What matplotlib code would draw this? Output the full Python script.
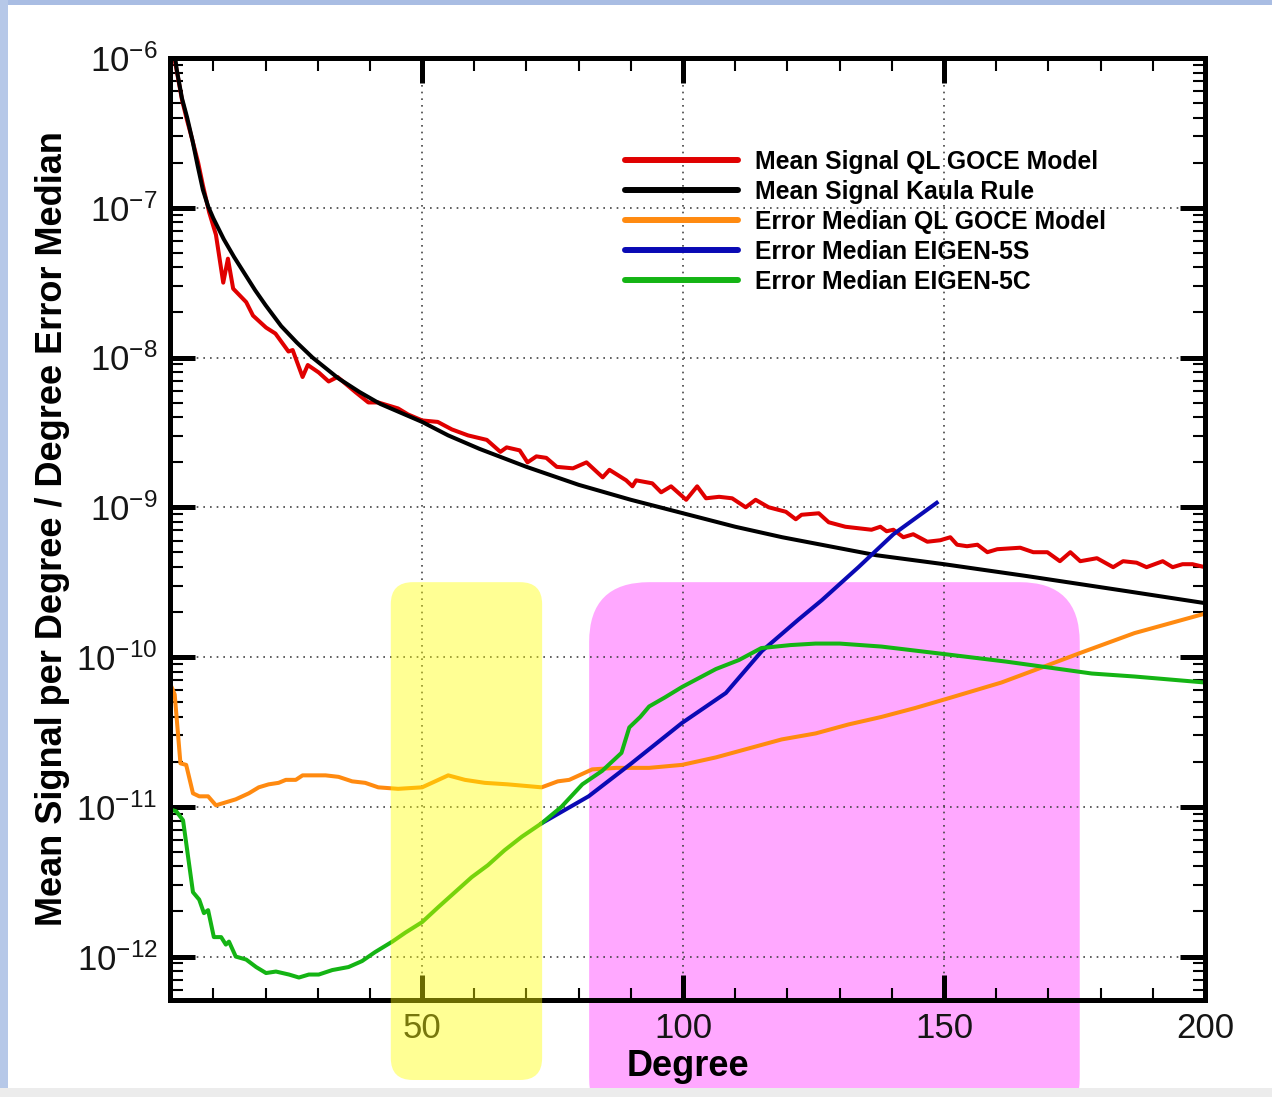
import numpy as np
import matplotlib
matplotlib.use('Agg')
import matplotlib.pyplot as plt
import matplotlib.transforms as mtransforms
from matplotlib.patches import FancyBboxPatch, Rectangle
from matplotlib.ticker import MultipleLocator, FixedLocator, NullFormatter
from matplotlib.font_manager import FontProperties

plt.rcParams['font.family'] = 'Liberation Sans'
plt.rcParams['mathtext.fontset'] = 'custom'
plt.rcParams['mathtext.rm'] = 'Liberation Sans'

# values, stored as log10 of the signal / error
red_deg = [2, 2.7, 4, 5, 6, 7.1, 8, 9.2, 10.5, 11.9, 12.8, 13.8, 16.3, 17.6, 20.1, 21.9,
           24.4, 25.2, 27.1, 28.1, 30.2, 32.1, 33.8, 37.2, 39.7, 41.6, 45.4, 47.3, 50, 53,
           55.7, 58.8, 62.4, 65, 66.2, 68.7, 70.2, 71.9, 73.8, 75.8, 78.9, 81.5, 84.6, 85.9,
           89.1, 90.3, 91, 94.1, 95.8, 97.7, 100.6, 102.7, 104.4, 106.9, 109.4, 112, 113.9,
           116.4, 119.7, 121.6, 122.7, 126, 127.9, 131.1, 136.1, 137.8, 139, 140.3, 142.2,
           144.1, 146.8, 149.3, 151.2, 152.5, 154.4, 156.4, 158.3, 160.2, 164.6, 167.1,
           169.8, 172.2, 174.2, 176.1, 179.3, 182.4, 184.3, 186.9, 188.8, 191.9, 193.8,
           195.7, 197.6, 200]
red_log = [-5.80, -6.03, -6.28, -6.42, -6.55, -6.70, -6.85, -7.03, -7.18, -7.50, -7.34,
           -7.54, -7.63, -7.72, -7.80, -7.84, -7.96, -7.95, -8.13, -8.05, -8.10, -8.16,
           -8.13, -8.23, -8.30, -8.30, -8.34, -8.38, -8.42, -8.43, -8.48, -8.52, -8.55,
           -8.63, -8.60, -8.62, -8.70, -8.66, -8.67, -8.73, -8.74, -8.70, -8.80, -8.75,
           -8.82, -8.86, -8.82, -8.84, -8.90, -8.86, -8.95, -8.86, -8.94, -8.93, -8.94,
           -9.00, -8.95, -9.00, -9.03, -9.08, -9.05, -9.04, -9.10, -9.13, -9.15, -9.13,
           -9.16, -9.15, -9.20, -9.18, -9.23, -9.22, -9.20, -9.25, -9.26, -9.25, -9.30,
           -9.28, -9.27, -9.30, -9.30, -9.36, -9.30, -9.36, -9.34, -9.40, -9.36, -9.37,
           -9.40, -9.36, -9.40, -9.38, -9.38, -9.40]

kaula_deg = [2, 2.5, 3, 4, 5, 6, 7, 8, 9, 10, 12, 14, 16, 18, 20, 23, 26, 29, 34, 38,
             42, 46, 50, 55, 61, 70, 80, 90, 100, 110, 119, 128, 137, 150, 166, 185, 200]
kaula_log = [-5.80, -5.95, -6.08, -6.27, -6.40, -6.55, -6.72, -6.88, -6.99, -7.07,
             -7.21, -7.33, -7.44, -7.55, -7.65, -7.79, -7.90, -8.00, -8.14, -8.23,
             -8.31, -8.37, -8.43, -8.52, -8.61, -8.73, -8.85, -8.95, -9.04, -9.13,
             -9.20, -9.26, -9.32, -9.38, -9.46, -9.56, -9.64]

goce_err_deg = [2, 2.6, 3.2, 3.7, 4.8, 6.1, 7.3, 9, 10.5, 12.4, 14.3, 16.8, 18.7, 20.6,
                22.5, 23.9, 25.8, 27.1, 29, 31.5, 34, 36.6, 39.1, 41.6, 45.4, 50, 55,
                58.2, 62, 66.4, 72.9, 76, 78.2, 82.6, 87.2, 93.5, 99.8, 106.3, 112.6,
                118.9, 125.4, 131.7, 138, 144.5, 150.4, 161, 168.7, 176.3, 186.5, 200]
goce_err_log = [-10.20, -10.25, -10.50, -10.71, -10.72, -10.91, -10.93, -10.93, -10.99,
                -10.97, -10.95, -10.91, -10.87, -10.85, -10.84, -10.82, -10.82, -10.79,
                -10.79, -10.79, -10.80, -10.83, -10.84, -10.87, -10.88, -10.87, -10.79,
                -10.82, -10.84, -10.85, -10.87, -10.83, -10.82, -10.75, -10.74, -10.74,
                -10.72, -10.67, -10.61, -10.55, -10.51, -10.45, -10.40, -10.34, -10.28,
                -10.17, -10.07, -9.97, -9.84, -9.71]

eigen5s_deg = [72.9, 81.9, 90.1, 99.8, 108.2, 115.1, 122.1, 126.6, 133.6, 140.3, 148.6]
eigen5s_log = [-11.11, -10.93, -10.71, -10.44, -10.24, -9.96, -9.75, -9.62, -9.40,
               -9.18, -8.97]

eigen5c_deg = [2, 2.9, 4.2, 6.1, 7.3, 8.2, 9, 10.1, 11.5, 12.4, 13, 14.3, 16.3, 18.2,
               20.1, 22, 24.5, 26.4, 28.3, 30.2, 32.8, 35.9, 38.5, 41, 44.3, 46.8, 50,
               53.1, 56.3, 59.5, 62.6, 65.8, 69.1, 72.9, 76.7, 80.7, 84.5, 88.2, 89.7,
               91.8, 93.5, 96.5, 99.8, 106.3, 110.7, 115, 120.6, 125.4, 130, 138, 145.2,
               150, 161.8, 170.1, 178.3, 186.5, 200]
eigen5c_log = [-11.02, -11.03, -11.09, -11.57, -11.62, -11.71, -11.69, -11.87, -11.87,
               -11.92, -11.90, -12.00, -12.02, -12.07, -12.11, -12.10, -12.12, -12.14,
               -12.12, -12.12, -12.09, -12.07, -12.03, -11.97, -11.90, -11.84, -11.77,
               -11.67, -11.57, -11.47, -11.39, -11.29, -11.20, -11.11, -11.00, -10.85,
               -10.76, -10.64, -10.47, -10.40, -10.33, -10.27, -10.20, -10.08, -10.02,
               -9.94, -9.92, -9.91, -9.91, -9.93, -9.96, -9.98, -10.03, -10.07, -10.11,
               -10.13, -10.17]

labels = ['Mean Signal QL GOCE Model', 'Mean Signal Kaula Rule',
          'Error Median QL GOCE Model', 'Error Median EIGEN-5S', 'Error Median EIGEN-5C']

decades = [-12, -11, -10, -9, -8, -7, -6]

# highlighted degree bands (yellow, magenta)
yellow_band = (44, 73)
magenta_band = (82, 176)

fig = plt.figure(figsize=(12.72, 10.97), dpi=100)
ax = fig.add_axes([170 / 1272, 97 / 1097, 1035 / 1272, 942 / 1097])
ax.set_facecolor('none')

lw = 2.9
ax.plot(red_deg, 10 ** np.array(red_log), color='#e00000', lw=lw, label=labels[0])
ax.plot(kaula_deg, 10 ** np.array(kaula_log), color='black', lw=lw, label=labels[1])
ax.plot(goce_err_deg, 10 ** np.array(goce_err_log), color='#ff8a10', lw=lw, label=labels[2])
ax.plot(eigen5s_deg, 10 ** np.array(eigen5s_log), color='#0a0ab4', lw=lw, label=labels[3])
ax.plot(eigen5c_deg, 10 ** np.array(eigen5c_log), color='#14b414', lw=lw, label=labels[4])

ax.set_yscale('log')
ax.set_xlim(1.7, 200)
ax.set_ylim(10 ** -12.29, 1e-6)

ax.xaxis.set_major_locator(MultipleLocator(50))
ax.xaxis.set_minor_locator(MultipleLocator(10))
ax.set_yticks([10.0 ** d for d in decades])
minor_y = [m * 10.0 ** d for d in decades[:-1] for m in range(2, 10)]
minor_y += [m * 1e-13 for m in range(6, 10)]
ax.yaxis.set_minor_locator(FixedLocator(minor_y))
ax.yaxis.set_minor_formatter(NullFormatter())

ax.tick_params(which='major', direction='in', length=18, width=3.6, top=True, right=True,
               labelsize=25, pad=9, labelcolor='#151515')
ax.tick_params(which='minor', direction='in', length=9, width=1.5, top=True, right=True)
for s in ax.spines.values():
    s.set_linewidth(3.6)

ax.grid(True, which='major', color='#444444', linestyle=(0, (1, 3)), linewidth=1.2)

ax.set_xlabel('Degree', fontsize=26, fontweight='bold')
ax.xaxis.set_label_coords(0.5, -0.052)
ax.set_ylabel('Mean Signal per Degree / Degree Error Median', fontsize=26, fontweight='bold')
ax.yaxis.set_label_coords(-0.097, 0.50)

leg = ax.legend(loc='upper left', bbox_to_anchor=(625 / 1272, 1 - 150 / 1097),
                bbox_transform=fig.transFigure, frameon=False,
                prop=FontProperties(family='Liberation Sans', weight='bold', size=17.8),
                handlelength=4.57, handletextpad=0.69, labelspacing=0.24,
                borderpad=0, borderaxespad=0)
for h in leg.get_lines():
    h.set_linewidth(4.3)
    h.set_solid_capstyle('round')

# highlight boxes: magenta sits behind the curves, yellow is laid over them
def band_box(band, top_val, bottom_px, color, alpha, radius, z):
    x0 = ax.transData.transform((band[0], top_val))[0]
    x1, y1 = ax.transData.transform((band[1], top_val))
    box = FancyBboxPatch((x0, bottom_px), x1 - x0, y1 - bottom_px,
                         boxstyle='round,pad=0,rounding_size=%d' % radius,
                         transform=mtransforms.IdentityTransform(),
                         facecolor=color, edgecolor='none', alpha=alpha, zorder=z)
    fig.add_artist(box)

band_box(yellow_band, 10 ** -9.5, 17, '#ffff00', 0.42, 22, 10)
band_box(magenta_band, 10 ** -9.5, -40, '#ff00ff', 0.34, 60, -1)

# slide frame around the screenshot
fig.add_artist(Rectangle((0, 1 - 5 / 1097), 1, 5 / 1097, transform=fig.transFigure,
                         facecolor='#a9bde3', edgecolor='none', zorder=20))
fig.add_artist(Rectangle((0, 0), 8 / 1272, 1, transform=fig.transFigure,
                         facecolor='#b6c8e8', edgecolor='none', zorder=20))
fig.add_artist(Rectangle((0, 0), 1, 9 / 1097, transform=fig.transFigure,
                         facecolor='#ececec', edgecolor='none', zorder=20))

fig.savefig('out.png', dpi=100)
